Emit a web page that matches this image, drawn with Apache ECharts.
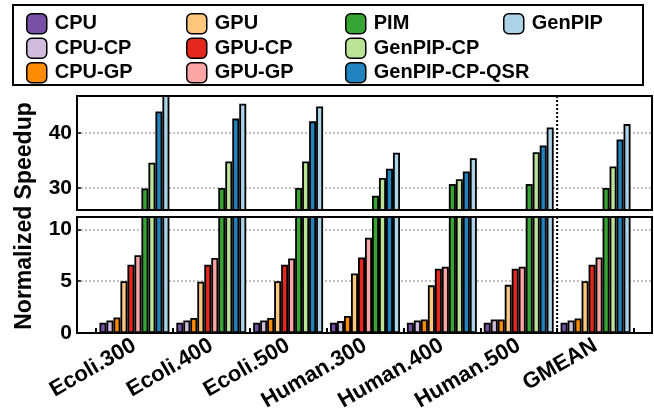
<!DOCTYPE html>
<html>
<head>
<meta charset="utf-8">
<script src="https://cdn.jsdelivr.net/npm/echarts@6/dist/echarts.min.js"></script>
<style>
  html, body { margin: 0; padding: 0; background: #fff; }
  #chart { width: 654px; height: 418px; }
</style>
</head>
<body>
<div id="chart"></div>
<script>
var categories = ['Ecoli.300', 'Ecoli.400', 'Ecoli.500', 'Human.300', 'Human.400', 'Human.500', 'GMEAN'];

var seriesNames = ['CPU', 'CPU-CP', 'CPU-GP', 'GPU', 'GPU-CP', 'GPU-GP', 'PIM', 'GenPIP-CP', 'GenPIP-CP-QSR', 'GenPIP'];
var seriesColors = ['#7850a5', '#d0bcdd', '#fd8c00', '#fdc77d', '#e5281f', '#fca5a4', '#36a533', '#bae398', '#2284bf', '#add3e8'];

var cpu         = [1.0, 1.0, 1.0, 1.0, 1.0, 1.0, 1.0];
var cpuCp       = [1.2, 1.2, 1.2, 1.15, 1.2, 1.3, 1.2];
var cpuGp       = [1.5, 1.45, 1.45, 1.65, 1.3, 1.3, 1.4];
var gpu         = [5.0, 4.95, 5.0, 5.75, 4.6, 4.65, 5.0];
var gpuCp       = [6.6, 6.6, 6.6, 7.3, 6.2, 6.2, 6.6];
var gpuGp       = [7.5, 7.25, 7.2, 9.2, 6.4, 6.4, 7.3];
var pim         = [29.9, 30.0, 30.0, 28.6, 30.7, 30.7, 30.0];
var genpipCp    = [34.6, 34.8, 34.8, 31.8, 31.6, 36.5, 33.9];
var genpipCpQsr = [43.9, 42.6, 42.1, 33.5, 33.0, 37.7, 38.8];
var genpip      = [48.0, 45.3, 44.8, 36.4, 35.4, 41.0, 41.6];

var allValues = [cpu, cpuCp, cpuGp, gpu, gpuCp, gpuGp, pim, genpipCp, genpipCpQsr, genpip];

// broken axis: upper and lower ranges
var topRange = [26, 46.7];
var bottomRange = [0, 11.2];

var legendColumns = [
    ['CPU', 'CPU-CP', 'CPU-GP'],
    ['GPU', 'GPU-CP', 'GPU-GP'],
    ['PIM', 'GenPIP-CP', 'GenPIP-CP-QSR'],
    ['GenPIP']
];

var FONT = "'Liberation Sans', Arial, sans-serif";

var chart = echarts.init(document.getElementById('chart'), null, { renderer: 'canvas' });

var series = [];
seriesNames.forEach(function (name, i) {
    [0, 1].forEach(function (panel) {
        series.push({
            name: name,
            type: 'bar',
            xAxisIndex: 2 + panel,
            yAxisIndex: 2 + panel,
            data: allValues[i].map(function (v) {
                var r = panel === 0 ? topRange : bottomRange;
                return v >= r[0] ? v : null;
            }),
            clip: true,
            barGap: '0%',
            barCategoryGap: '9%',
            itemStyle: {
                color: seriesColors[i],
                borderColor: '#000',
                borderWidth: 1.8
            },
            emphasis: { disabled: true }
        });
    });
});

var legends = legendColumns.map(function (col, c) {
    return {
        orient: 'vertical',
        left: [21, 181, 340, 498][c],
        top: 8,
        data: col,
        itemWidth: 20,
        itemHeight: 20,
        itemGap: 3,
        icon: 'roundRect',
        selectedMode: false,
        itemStyle: { borderColor: '#000', borderWidth: 1.5 },
        textStyle: { fontFamily: FONT, fontWeight: 'bold', fontSize: 20, lineHeight: 20, color: '#000', padding: [0, 0, 0, 3] }
    };
});

var yLabel = { fontFamily: FONT, fontWeight: 'bold', fontSize: 21, color: '#000', margin: 5 };
var gridLine = { show: true, lineStyle: { color: '#aaa', type: [2, 2], width: 1.5 } };

chart.setOption({
    animation: false,
    legend: legends,
    grid: [
        { left: 77, right: 2, top: 96, height: 114, show: true, borderColor: '#000', borderWidth: 2, z: 5 },
        { left: 77, right: 2, top: 217, height: 116, show: true, borderColor: '#000', borderWidth: 2, z: 5 },
        { left: 96, right: 20, top: 96, height: 114 },
        { left: 96, right: 20, top: 217, height: 116 }
    ],
    xAxis: [
        { gridIndex: 0, type: 'value', show: false, min: 0, max: 1 },
        { gridIndex: 1, type: 'value', show: false, min: 0, max: 1 },
        { gridIndex: 2, type: 'category', data: categories, show: false },
        {
            gridIndex: 3, type: 'category', data: categories,
            axisLine: { show: false },
            axisTick: { show: true, inside: true, length: 5, lineStyle: { color: '#000', width: 2 } },
            axisLabel: { rotate: 30, margin: 11, fontFamily: FONT, fontWeight: 'bold', fontSize: 22, color: '#000', interval: 0 }
        }
    ],
    yAxis: [
        {
            gridIndex: 0, type: 'value', min: topRange[0], max: topRange[1], splitNumber: 2,
            axisLine: { show: true, lineStyle: { color: '#000', width: 2 } },
            axisTick: { show: true, inside: true, length: 4, lineStyle: { color: '#000', width: 1.5 } },
            axisLabel: Object.assign({ showMinLabel: false, showMaxLabel: false }, yLabel),
            splitLine: gridLine
        },
        {
            gridIndex: 1, type: 'value', min: bottomRange[0], max: bottomRange[1], interval: 5,
            axisLine: { show: true, lineStyle: { color: '#000', width: 2 } },
            axisTick: { show: true, inside: true, length: 4, lineStyle: { color: '#000', width: 1.5 } },
            axisLabel: Object.assign({ showMaxLabel: false }, yLabel),
            splitLine: gridLine
        },
        { gridIndex: 2, type: 'value', min: topRange[0], max: topRange[1], show: false, splitLine: { show: false } },
        { gridIndex: 3, type: 'value', min: bottomRange[0], max: bottomRange[1], show: false, splitLine: { show: false } }
    ],
    series: series
});

// dotted separator before GMEAN, legend frame and y name
var sepX = (chart.convertToPixel({ xAxisIndex: 3 }, 'Human.500') + chart.convertToPixel({ xAxisIndex: 3 }, 'GMEAN')) / 2;
var topY0 = chart.convertToPixel({ yAxisIndex: 2 }, topRange[1]);
var topY1 = chart.convertToPixel({ yAxisIndex: 2 }, topRange[0]);
var botY0 = chart.convertToPixel({ yAxisIndex: 3 }, bottomRange[1]);
var botY1 = chart.convertToPixel({ yAxisIndex: 3 }, bottomRange[0]);

var sepStyle = { stroke: '#000', lineWidth: 2, lineDash: [2, 2] };

chart.setOption({
    graphic: [
        { id: 'sepTop', type: 'line', z: 6, shape: { x1: sepX, y1: topY0, x2: sepX, y2: topY1 }, style: sepStyle },
        { id: 'sepBot', type: 'line', z: 6, shape: { x1: sepX, y1: botY0, x2: sepX, y2: botY1 }, style: sepStyle },
        { id: 'legendBox', type: 'rect', z: 0, shape: { x: 13, y: 5, width: 630, height: 80 },
          style: { fill: 'none', stroke: '#000', lineWidth: 2 } },
        { id: 'yName', type: 'text', x: 25, y: 216, rotation: Math.PI / 2,
          style: { text: 'Normalized Speedup', fontFamily: FONT, fontWeight: 'bold', fontSize: 23,
                   fill: '#000', align: 'center', verticalAlign: 'middle' } }
    ]
});
</script>
</body>
</html>
